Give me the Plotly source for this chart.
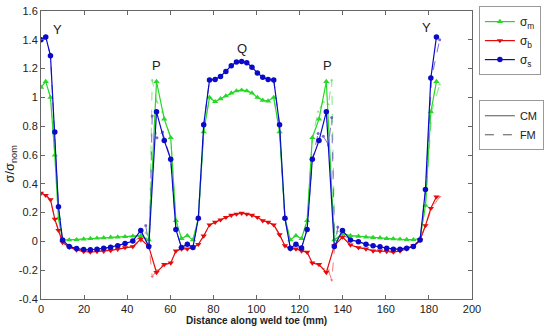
import plotly.graph_objects as go

# ---------------- data ----------------
x_cm = [0, 2.2, 4.4, 6.4, 8.1, 10, 13.1, 16.5, 19.8, 22.9, 26.0, 29.1, 32.3, 35.6, 39.0, 42.6,
        46.3, 50.0, 53.6, 57.2, 60.2, 62.6, 65.2, 67.9, 70.5, 73.0, 75.5, 78.2, 80.8, 83.3, 85.8,
        88.3, 90.7, 93.1, 95.5, 97.9, 100.4, 102.9, 105.4, 108.0, 110.7, 113.2, 115.7, 118.3,
        120.9, 123.5, 125.9, 129.0, 132.4, 136.1, 139.9, 143.6, 147.3, 150.8, 154.1, 157.3,
        160.4, 163.5, 166.6, 169.7, 172.8, 175.9, 178.4, 180.9, 183.5]

sm_cm = [1.07, 1.11, 1.00, 0.60, 0.16, 0.01, 0.01, 0.012, 0.016, 0.02, 0.022, 0.025, 0.028, 0.03,
         0.033, 0.036, 0.04, 0.01, 1.11, 0.85, 0.72, 0.144, 0.02, 0.04, 0.01, 0.16, 0.76,
         1.00, 0.97, 0.99, 1.01, 1.03, 1.045, 1.05, 1.045, 1.03, 1.00, 0.98, 0.975, 1.00,
         0.76, 0.16, 0.01, 0.04, 0.02, 0.144, 0.72, 0.85, 1.11, 0.01, 0.055, 0.04, 0.035,
         0.03, 0.027, 0.025, 0.02, 0.018, 0.015, 0.013, 0.012, 0.02, 0.25, 0.90, 1.11]

sb_cm = [0.335, 0.32, 0.29, 0.155, 0.077, -0.007, -0.04, -0.06, -0.07, -0.074, -0.07, -0.068,
         -0.063, -0.054, -0.043, -0.036, 0.016, -0.036, -0.216, -0.16, -0.15, -0.066, -0.052,
         -0.052, -0.043, -0.02, 0.038, 0.115, 0.133, 0.15, 0.167, 0.182, 0.19, 0.196, 0.19,
         0.182, 0.167, 0.144, 0.133, 0.115, 0.047, -0.03, -0.052, -0.052, -0.066, -0.075,
         -0.15, -0.16, -0.216, -0.03, 0.03, -0.025, -0.043, -0.052, -0.066, -0.066, -0.07,
         -0.074, -0.066, -0.052, -0.03, 0.01, 0.11, 0.23, 0.31]

ss_cm = [1.40, 1.42, 1.29, 0.76, 0.24, 0.01, -0.035, -0.05, -0.057, -0.058, -0.055, -0.048,
         -0.04, -0.03, -0.015, 0.002, 0.076, -0.036, 0.90, 0.70, 0.57, 0.083, -0.043, -0.02,
         -0.043, 0.16, 0.81, 1.12, 1.125, 1.145, 1.18, 1.22, 1.245, 1.25, 1.24, 1.21, 1.17,
         1.14, 1.125, 1.12, 0.81, 0.16, -0.047, -0.02, -0.045, 0.083, 0.57, 0.70, 0.90,
         -0.036, 0.076, 0.01, -0.002, -0.02, -0.03, -0.037, -0.047, -0.054, -0.054, -0.047,
         -0.036, 0.009, 0.36, 1.135, 1.42]

x_fm = [0, 2.2, 4.4, 6.4, 8.1, 10, 13.1, 16.5, 19.8, 22.9, 26.0, 29.1, 32.3, 35.6, 39.0, 42.6,
        46.3, 48.6, 50.3, 51.6, 53.8, 56.4, 60.2, 62.6, 65.2, 67.9, 70.5, 73.0, 75.5, 78.2,
        80.8, 83.3, 85.8, 88.3, 90.7, 93.1, 95.5, 97.9, 100.4, 102.9, 105.4, 108.0, 110.7,
        113.2, 115.7, 118.3, 120.9, 123.5, 125.9, 128.6, 131.0, 133.4, 134.9, 136.3, 137.7,
        139.9, 143.6, 147.3, 150.8, 154.1, 157.3, 160.4, 163.5, 166.6, 169.7, 172.8, 175.9,
        178.5, 181.3, 185.0]

sm_fm = [1.07, 1.11, 1.00, 0.60, 0.16, 0.01, 0.01, 0.012, 0.016, 0.02, 0.022, 0.025, 0.028, 0.03,
         0.033, 0.036, 0.04, 0.06, 0.02, 1.12, 0.97, 0.90, 0.72, 0.15, 0.02, 0.04, 0.01, 0.16,
         0.76, 1.00, 0.97, 0.99, 1.01, 1.03, 1.045, 1.05, 1.045, 1.03, 1.00, 0.98, 0.975,
         1.00, 0.76, 0.16, 0.01, 0.04, 0.02, 0.15, 0.72, 0.90, 0.97, 0.95, 1.12, 0.02, 0.07,
         0.055, 0.04, 0.035, 0.03, 0.027, 0.025, 0.02, 0.018, 0.015, 0.013, 0.012, 0.02,
         0.25, 0.90, 1.09]

sb_fm = [0.335, 0.32, 0.29, 0.155, 0.077, -0.007, -0.04, -0.06, -0.07, -0.074, -0.07, -0.068,
         -0.063, -0.054, -0.043, -0.036, 0.0, 0.02, -0.05, -0.245, -0.2, -0.17, -0.15, -0.066,
         -0.052, -0.052, -0.043, -0.02, 0.038, 0.115, 0.133, 0.15, 0.167, 0.182, 0.19, 0.196,
         0.19, 0.182, 0.167, 0.144, 0.133, 0.115, 0.047, -0.03, -0.052, -0.052, -0.066,
         -0.075, -0.15, -0.16, -0.19, -0.2, -0.27, -0.03, 0.02, 0.03, -0.025, -0.043, -0.052,
         -0.066, -0.066, -0.07, -0.074, -0.066, -0.052, -0.03, 0.01, 0.11, 0.23, 0.31]

ss_fm = [1.40, 1.42, 1.29, 0.76, 0.24, 0.01, -0.035, -0.05, -0.057, -0.058, -0.055, -0.048,
         -0.04, -0.03, -0.015, 0.0, 0.03, 0.11, -0.04, 0.87, 0.72, 0.76, 0.57, 0.083, -0.043,
         -0.02, -0.043, 0.16, 0.81, 1.12, 1.125, 1.145, 1.18, 1.22, 1.245, 1.25, 1.24, 1.21,
         1.17, 1.14, 1.125, 1.12, 0.81, 0.16, -0.047, -0.02, -0.045, 0.083, 0.57, 0.75, 0.73,
         0.67, 0.86, -0.04, 0.10, 0.05, 0.01, -0.002, -0.02, -0.03, -0.037, -0.047, -0.054,
         -0.054, -0.047, -0.036, 0.009, 0.36, 1.14, 1.40]

x_ticks = [0, 20, 40, 60, 80, 100, 120, 140, 160, 180, 200]
x_tick_text = ["0", "20", "40", "60", "80", "100", "120", "140", "160", "180", "200"]
y_ticks = [-0.4, -0.2, 0, 0.2, 0.4, 0.6, 0.8, 1.0, 1.2, 1.4, 1.6]
y_tick_text = ["-0.4", "-0.2", "0", "0.2", "0.4", "0.6", "0.8", "1", "1.2", "1.4", "1.6"]

labels = ["Y", "P", "Q", "P", "Y"]
label_x = [7.5, 53.5, 93.3, 132.8, 179.0]
label_y = [1.475, 1.225, 1.34, 1.225, 1.485]

# ---------------- figure ----------------
GREEN = "rgb(40,215,40)"
RED = "rgb(230,10,10)"
BLUE = "rgb(10,10,200)"
GREEN_FM = "rgba(110,225,110,0.85)"
RED_FM = "rgba(240,100,100,0.85)"
BLUE_FM = "rgba(110,90,200,0.9)"

PLOT_H = 328 - 6 - 29

fig = go.Figure()

# FM (dashed) first, behind
for xs, ys, col, sym in [(x_fm, sm_fm, GREEN_FM, "triangle-up"),
                         (x_fm, sb_fm, RED_FM, "triangle-down"),
                         (x_fm, ss_fm, BLUE_FM, "circle")]:
    fig.add_trace(go.Scatter(x=xs, y=ys, mode="lines+markers", showlegend=False,
                             line=dict(color=col, width=1, dash="dash"),
                             marker=dict(symbol=sym, size=3, color=col)))

# CM (solid)
for xs, ys, col, sym, nm, sz in [(x_cm, sm_cm, GREEN, "triangle-up", "σ<sub>m</sub>", 5.5),
                                 (x_cm, sb_cm, RED, "triangle-down", "σ<sub>b</sub>", 5.5),
                                 (x_cm, ss_cm, BLUE, "circle", "σ<sub>s</sub>", 5.5)]:
    fig.add_trace(go.Scatter(x=xs, y=ys, mode="lines+markers", name=nm, legend="legend",
                             line=dict(color=col, width=1.2),
                             marker=dict(symbol=sym, size=sz, color=col)))

# legend-only traces for CM/FM
fig.add_trace(go.Scatter(x=[None], y=[None], mode="lines", name="CM", legend="legend2",
                         line=dict(color="#555", width=1)))
fig.add_trace(go.Scatter(x=[None], y=[None], mode="lines", name="FM", legend="legend2",
                         line=dict(color="#555", width=1, dash="dash")))

for t, lx, ly in zip(labels, label_x, label_y):
    fig.add_annotation(x=lx, y=ly, text=t, showarrow=False, xref="x", yref="y",
                       font=dict(size=13, color="#222"))

fig.add_annotation(x=0.5, y=-29.0 / PLOT_H, xref="paper", yref="paper",
                   text="<b>Distance along weld toe (mm)</b>", showarrow=False,
                   yanchor="bottom", font=dict(size=10, color="#222"))
fig.add_annotation(x=-0.094, y=0.47, xref="paper", yref="paper", textangle=-90,
                   text="σ/σ<sub>nom</sub>", showarrow=False,
                   font=dict(size=13, color="#222"))

axis_common = dict(showgrid=False, zeroline=False, showline=True, linecolor="#666",
                   linewidth=1, mirror="ticks", ticks="inside", ticklen=4,
                   tickcolor="#666", tickfont=dict(size=11, color="#222",
                                                    family="Liberation Sans, Arial"))

fig.update_xaxes(range=[0, 200], tickvals=x_ticks, ticktext=x_tick_text, **axis_common)
fig.update_yaxes(range=[-0.4, 1.6], tickvals=y_ticks, ticktext=y_tick_text, **axis_common)

fig.update_layout(
    width=550, height=328,
    margin=dict(l=41, r=65, t=6, b=29),
    paper_bgcolor="white", plot_bgcolor="white",
    font=dict(family="Liberation Sans, Arial", color="#222"),
    legend=dict(x=1.016, y=1.017, xanchor="left", yanchor="top",
                bordercolor="#999", borderwidth=1, bgcolor="white",
                font=dict(size=12), itemwidth=30, tracegroupgap=0),
    legend2=dict(x=1.016, y=0.69, xanchor="left", yanchor="top",
                 bordercolor="#999", borderwidth=1, bgcolor="white",
                 font=dict(size=11), itemwidth=30),
)

fig.write_html("out.html")
